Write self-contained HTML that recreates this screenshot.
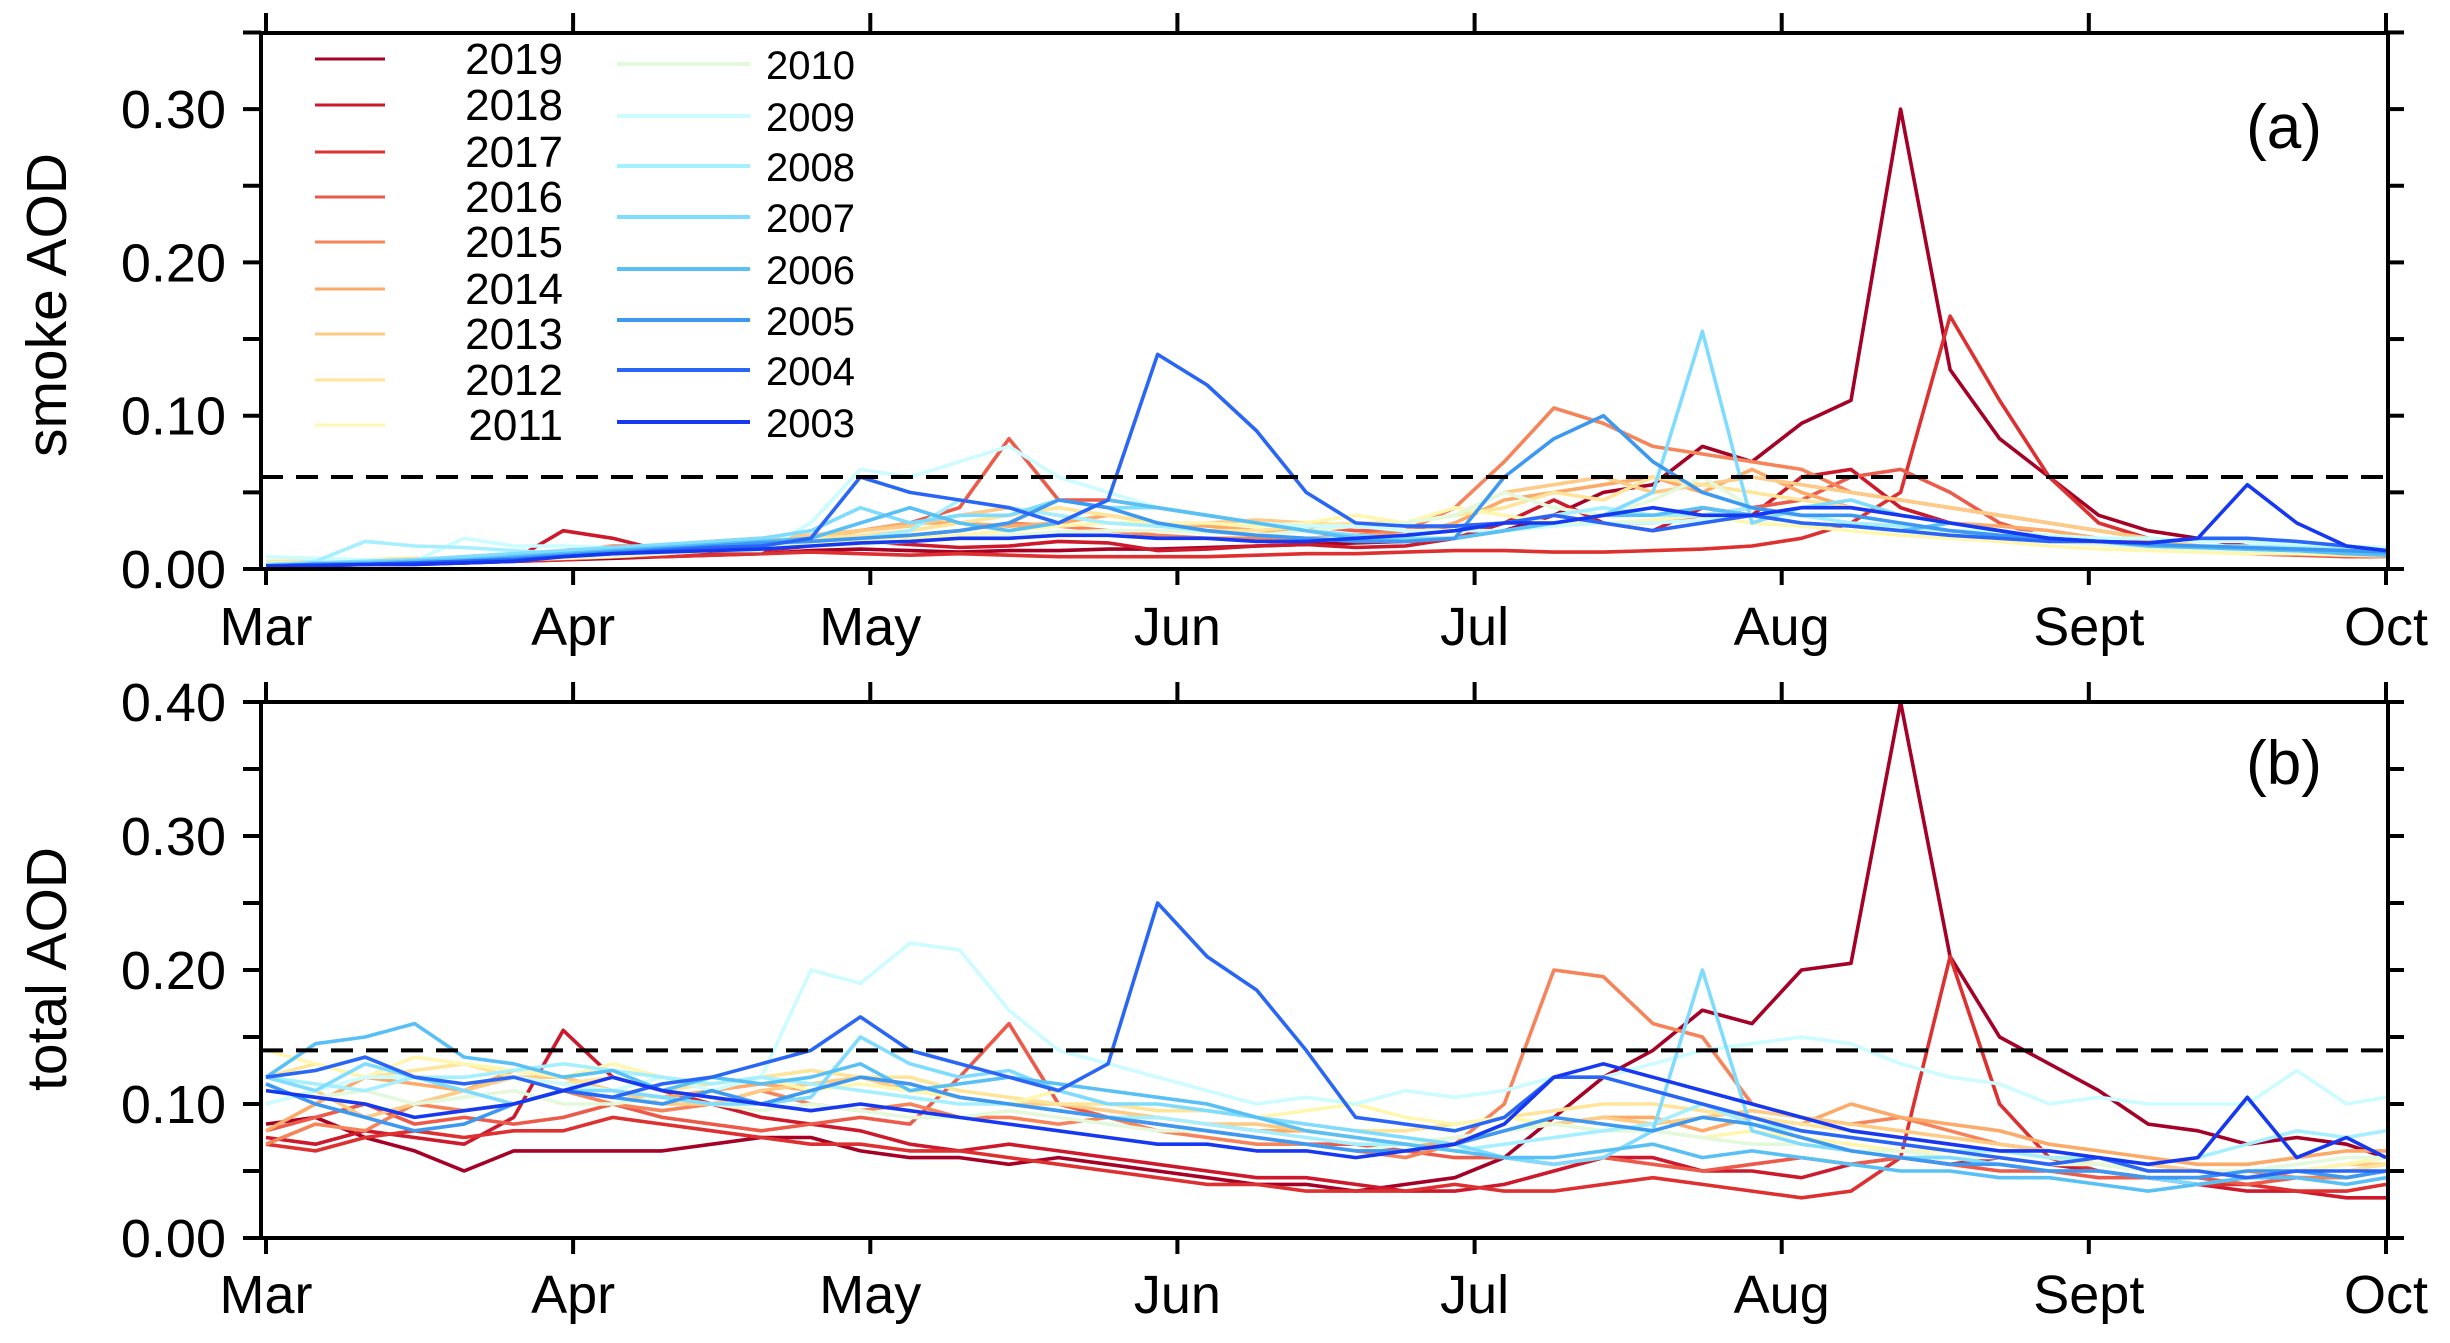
<!DOCTYPE html>
<html><head><meta charset="utf-8"><style>
html,body{margin:0;padding:0;background:#fff;}
svg{display:block;font-family:"Liberation Sans",sans-serif;}
</style></head><body>
<svg id="chart" width="2450" height="1343" viewBox="0 0 2450 1343" xmlns="http://www.w3.org/2000/svg"></svg>
<script>
const years = [2019,2018,2017,2016,2015,2014,2013,2012,2011,2010,2009,2008,2007,2006,2005,2004,2003];
const days = [0,5,10,15,20,25,30,35,40,45,50,55,60,65,70,75,80,85,90,95,100,105,110,115,120,125,130,135,140,145,150,155,160,165,170,175,180,185,190,195,200,205,210,214];
const monthLabels = ["Mar","Apr","May","Jun","Jul","Aug","Sept","Oct"];
const monthDays = [0,31,61,92,122,153,184,214];
const smokeTicks = [0.00,0.10,0.20,0.30];
const totalTicks = [0.00,0.10,0.20,0.30,0.40];
const smokeThreshold = 0.06;
const totalThreshold = 0.14;

const smoke2019=[0.002,0.003,0.004,0.004,0.004,0.005,0.006,0.007,0.008,0.009,0.010,0.012,0.013,0.012,0.011,0.012,0.012,0.013,0.013,0.014,0.015,0.016,0.017,0.018,0.02,0.025,0.035,0.05,0.055,0.08,0.07,0.095,0.11,0.30,0.13,0.085,0.06,0.035,0.025,0.02,0.015,0.012,0.01,0.008];
const smoke2018=[0.003,0.004,0.004,0.005,0.005,0.006,0.025,0.02,0.012,0.01,0.012,0.015,0.018,0.016,0.014,0.015,0.018,0.017,0.012,0.013,0.015,0.016,0.014,0.015,0.02,0.03,0.045,0.03,0.025,0.04,0.035,0.06,0.065,0.04,0.03,0.025,0.02,0.018,0.016,0.014,0.012,0.01,0.009,0.008];
const smoke2017=[0.002,0.002,0.003,0.003,0.004,0.005,0.006,0.008,0.008,0.009,0.01,0.011,0.01,0.009,0.01,0.009,0.008,0.008,0.008,0.008,0.009,0.01,0.01,0.011,0.012,0.012,0.011,0.011,0.012,0.013,0.015,0.02,0.03,0.05,0.165,0.11,0.06,0.03,0.02,0.015,0.012,0.01,0.009,0.008];
const smoke2016=[0.002,0.003,0.004,0.005,0.006,0.008,0.01,0.012,0.015,0.018,0.02,0.022,0.025,0.03,0.04,0.085,0.045,0.045,0.04,0.035,0.03,0.028,0.025,0.025,0.028,0.03,0.035,0.03,0.03,0.035,0.04,0.045,0.06,0.065,0.05,0.03,0.02,0.018,0.015,0.012,0.01,0.009,0.008,0.008];
const smoke2015=[0.003,0.003,0.004,0.005,0.006,0.008,0.012,0.015,0.015,0.014,0.016,0.018,0.02,0.022,0.025,0.03,0.028,0.025,0.022,0.02,0.02,0.02,0.022,0.025,0.04,0.07,0.105,0.095,0.08,0.075,0.07,0.065,0.05,0.045,0.04,0.035,0.03,0.025,0.02,0.015,0.012,0.01,0.01,0.009];
const smoke2014=[0.003,0.004,0.004,0.005,0.006,0.007,0.008,0.01,0.012,0.015,0.018,0.02,0.025,0.03,0.03,0.028,0.03,0.035,0.03,0.028,0.025,0.025,0.022,0.022,0.03,0.045,0.05,0.055,0.06,0.05,0.065,0.05,0.04,0.035,0.03,0.028,0.025,0.02,0.018,0.015,0.012,0.01,0.009,0.008];
const smoke2013=[0.004,0.004,0.005,0.006,0.008,0.01,0.01,0.012,0.014,0.016,0.02,0.022,0.025,0.028,0.035,0.04,0.035,0.03,0.028,0.03,0.032,0.03,0.028,0.03,0.035,0.05,0.055,0.06,0.05,0.055,0.06,0.055,0.05,0.045,0.04,0.035,0.03,0.025,0.02,0.015,0.012,0.011,0.01,0.009];
const smoke2012=[0.005,0.005,0.006,0.007,0.007,0.008,0.009,0.01,0.012,0.014,0.016,0.02,0.022,0.025,0.03,0.035,0.04,0.035,0.03,0.025,0.025,0.028,0.03,0.03,0.035,0.04,0.05,0.045,0.06,0.055,0.05,0.045,0.04,0.035,0.03,0.025,0.02,0.018,0.015,0.012,0.01,0.01,0.009,0.009];
const smoke2011=[0.004,0.004,0.005,0.005,0.006,0.006,0.007,0.008,0.01,0.012,0.014,0.016,0.018,0.02,0.022,0.025,0.028,0.03,0.03,0.03,0.028,0.03,0.035,0.03,0.04,0.035,0.03,0.03,0.032,0.035,0.03,0.028,0.025,0.022,0.02,0.018,0.015,0.013,0.012,0.011,0.01,0.01,0.01,0.009];
const smoke2010=[0.004,0.004,0.005,0.005,0.006,0.007,0.008,0.009,0.01,0.012,0.014,0.015,0.016,0.018,0.02,0.022,0.024,0.025,0.025,0.024,0.022,0.025,0.028,0.03,0.035,0.05,0.04,0.035,0.045,0.06,0.04,0.035,0.03,0.025,0.022,0.02,0.018,0.016,0.014,0.013,0.012,0.011,0.011,0.01];
const smoke2009=[0.008,0.007,0.006,0.005,0.02,0.015,0.015,0.014,0.013,0.012,0.012,0.03,0.065,0.06,0.07,0.08,0.06,0.05,0.04,0.035,0.03,0.028,0.028,0.025,0.025,0.025,0.028,0.03,0.03,0.032,0.035,0.035,0.03,0.028,0.025,0.025,0.022,0.02,0.02,0.018,0.018,0.016,0.015,0.014];
const smoke2008=[0.002,0.005,0.018,0.015,0.014,0.012,0.01,0.011,0.012,0.014,0.016,0.018,0.02,0.025,0.045,0.04,0.035,0.03,0.028,0.025,0.022,0.02,0.02,0.022,0.025,0.03,0.035,0.04,0.035,0.035,0.04,0.035,0.03,0.028,0.025,0.022,0.02,0.018,0.016,0.015,0.015,0.014,0.013,0.012];
const smoke2007=[0.003,0.004,0.005,0.006,0.008,0.01,0.012,0.014,0.016,0.018,0.02,0.025,0.04,0.03,0.035,0.035,0.045,0.04,0.04,0.035,0.03,0.025,0.022,0.02,0.02,0.025,0.03,0.035,0.05,0.155,0.03,0.04,0.045,0.035,0.03,0.025,0.02,0.018,0.015,0.014,0.013,0.012,0.011,0.01];
const smoke2006=[0.002,0.003,0.004,0.005,0.006,0.008,0.01,0.012,0.014,0.016,0.018,0.02,0.03,0.04,0.03,0.025,0.03,0.045,0.04,0.035,0.03,0.025,0.02,0.018,0.02,0.025,0.03,0.035,0.035,0.04,0.035,0.03,0.028,0.025,0.03,0.025,0.02,0.018,0.015,0.014,0.013,0.012,0.01,0.009];
const smoke2005=[0.002,0.003,0.003,0.004,0.005,0.007,0.009,0.011,0.013,0.015,0.017,0.018,0.02,0.022,0.025,0.03,0.045,0.04,0.03,0.025,0.022,0.02,0.018,0.018,0.02,0.06,0.085,0.1,0.07,0.05,0.04,0.035,0.035,0.03,0.025,0.022,0.02,0.018,0.016,0.015,0.014,0.013,0.012,0.011];
const smoke2004=[0.002,0.003,0.003,0.004,0.005,0.006,0.008,0.01,0.012,0.014,0.015,0.02,0.06,0.05,0.045,0.04,0.03,0.045,0.14,0.12,0.09,0.05,0.03,0.028,0.028,0.03,0.035,0.03,0.025,0.03,0.035,0.03,0.028,0.025,0.022,0.02,0.018,0.018,0.017,0.02,0.02,0.018,0.015,0.012];
const smoke2003=[0.002,0.002,0.003,0.003,0.004,0.005,0.008,0.01,0.011,0.012,0.013,0.015,0.017,0.018,0.02,0.02,0.022,0.022,0.02,0.02,0.018,0.018,0.02,0.022,0.025,0.03,0.03,0.035,0.04,0.035,0.035,0.04,0.04,0.035,0.03,0.025,0.02,0.018,0.017,0.02,0.055,0.03,0.015,0.012];

const total2019=[0.085,0.09,0.075,0.065,0.05,0.065,0.065,0.065,0.065,0.07,0.075,0.075,0.065,0.06,0.06,0.055,0.06,0.055,0.05,0.045,0.04,0.04,0.035,0.04,0.045,0.06,0.09,0.12,0.14,0.17,0.16,0.2,0.205,0.40,0.21,0.15,0.13,0.11,0.085,0.08,0.07,0.075,0.07,0.06];
const total2018=[0.075,0.07,0.08,0.075,0.07,0.09,0.155,0.12,0.11,0.1,0.09,0.085,0.08,0.07,0.065,0.07,0.065,0.06,0.055,0.05,0.045,0.045,0.04,0.035,0.035,0.04,0.05,0.06,0.06,0.05,0.05,0.045,0.055,0.06,0.055,0.06,0.055,0.05,0.045,0.04,0.035,0.035,0.03,0.03];
const total2017=[0.07,0.065,0.075,0.08,0.075,0.08,0.08,0.09,0.085,0.08,0.075,0.07,0.07,0.065,0.065,0.06,0.055,0.05,0.045,0.04,0.04,0.035,0.035,0.035,0.04,0.035,0.035,0.04,0.045,0.04,0.035,0.03,0.035,0.06,0.21,0.1,0.06,0.05,0.045,0.04,0.04,0.035,0.035,0.04];
const total2016=[0.08,0.09,0.1,0.085,0.09,0.085,0.09,0.1,0.09,0.085,0.08,0.085,0.09,0.085,0.12,0.16,0.1,0.09,0.085,0.08,0.075,0.07,0.07,0.065,0.06,0.06,0.055,0.06,0.055,0.05,0.055,0.06,0.055,0.06,0.055,0.05,0.05,0.045,0.045,0.045,0.04,0.045,0.045,0.05];
const total2015=[0.07,0.085,0.08,0.1,0.095,0.1,0.11,0.1,0.095,0.1,0.11,0.1,0.095,0.1,0.09,0.09,0.085,0.09,0.08,0.075,0.07,0.07,0.065,0.06,0.07,0.1,0.2,0.195,0.16,0.15,0.1,0.09,0.085,0.09,0.08,0.07,0.065,0.06,0.055,0.05,0.05,0.045,0.045,0.05];
const total2014=[0.08,0.1,0.12,0.115,0.11,0.125,0.12,0.11,0.105,0.11,0.115,0.11,0.12,0.115,0.105,0.1,0.095,0.09,0.09,0.085,0.08,0.08,0.075,0.07,0.07,0.08,0.085,0.09,0.09,0.08,0.09,0.085,0.1,0.09,0.085,0.08,0.07,0.065,0.06,0.055,0.055,0.06,0.065,0.065];
const total2013=[0.1,0.11,0.09,0.1,0.11,0.12,0.12,0.11,0.1,0.1,0.11,0.115,0.12,0.11,0.105,0.1,0.1,0.095,0.09,0.085,0.085,0.08,0.075,0.07,0.075,0.08,0.085,0.09,0.085,0.09,0.095,0.09,0.085,0.08,0.075,0.07,0.065,0.06,0.055,0.05,0.05,0.05,0.055,0.055];
const total2012=[0.12,0.13,0.12,0.125,0.13,0.12,0.115,0.12,0.11,0.115,0.12,0.125,0.12,0.12,0.11,0.105,0.1,0.1,0.095,0.095,0.09,0.085,0.08,0.08,0.085,0.09,0.095,0.1,0.1,0.095,0.09,0.085,0.08,0.075,0.07,0.065,0.06,0.055,0.05,0.05,0.045,0.05,0.05,0.055];
const total2011=[0.14,0.13,0.12,0.135,0.13,0.125,0.12,0.13,0.12,0.115,0.12,0.11,0.115,0.11,0.105,0.1,0.11,0.1,0.1,0.095,0.09,0.095,0.1,0.09,0.085,0.09,0.085,0.08,0.08,0.075,0.08,0.075,0.07,0.065,0.065,0.06,0.055,0.055,0.05,0.05,0.05,0.05,0.055,0.06];
const total2010=[0.11,0.105,0.11,0.1,0.105,0.11,0.1,0.1,0.105,0.1,0.095,0.1,0.095,0.09,0.09,0.095,0.09,0.085,0.08,0.08,0.075,0.07,0.065,0.07,0.075,0.08,0.085,0.08,0.08,0.075,0.07,0.07,0.065,0.065,0.06,0.06,0.055,0.055,0.05,0.05,0.05,0.055,0.06,0.06];
const total2009=[0.1,0.11,0.12,0.12,0.115,0.12,0.115,0.11,0.12,0.11,0.12,0.2,0.19,0.22,0.215,0.17,0.14,0.13,0.12,0.11,0.1,0.105,0.1,0.11,0.105,0.11,0.12,0.12,0.13,0.14,0.145,0.15,0.145,0.13,0.12,0.115,0.1,0.105,0.1,0.1,0.1,0.125,0.1,0.105];
const total2008=[0.12,0.115,0.11,0.12,0.12,0.125,0.13,0.125,0.12,0.115,0.12,0.115,0.11,0.105,0.1,0.1,0.095,0.09,0.09,0.085,0.08,0.075,0.07,0.07,0.065,0.07,0.075,0.08,0.085,0.1,0.085,0.08,0.075,0.07,0.065,0.065,0.06,0.06,0.055,0.06,0.07,0.08,0.075,0.08];
const total2007=[0.12,0.11,0.13,0.12,0.11,0.1,0.11,0.11,0.105,0.1,0.1,0.105,0.15,0.13,0.12,0.125,0.11,0.1,0.1,0.095,0.09,0.085,0.08,0.075,0.07,0.06,0.055,0.06,0.08,0.2,0.08,0.07,0.065,0.06,0.06,0.055,0.05,0.05,0.045,0.04,0.045,0.05,0.045,0.05];
const total2006=[0.12,0.145,0.15,0.16,0.135,0.13,0.12,0.125,0.11,0.12,0.115,0.12,0.13,0.11,0.115,0.12,0.115,0.11,0.105,0.1,0.09,0.08,0.075,0.07,0.065,0.06,0.06,0.065,0.07,0.06,0.065,0.06,0.055,0.05,0.05,0.045,0.045,0.04,0.035,0.04,0.045,0.045,0.04,0.045];
const total2005=[0.115,0.1,0.09,0.08,0.085,0.1,0.11,0.105,0.1,0.11,0.1,0.11,0.12,0.115,0.105,0.1,0.095,0.09,0.085,0.08,0.075,0.07,0.065,0.065,0.07,0.08,0.09,0.085,0.08,0.09,0.085,0.075,0.065,0.06,0.055,0.055,0.05,0.05,0.045,0.045,0.05,0.05,0.045,0.05];
const total2004=[0.12,0.125,0.135,0.12,0.115,0.12,0.11,0.105,0.115,0.12,0.13,0.14,0.165,0.14,0.13,0.12,0.11,0.13,0.25,0.21,0.185,0.14,0.09,0.085,0.08,0.09,0.12,0.12,0.11,0.1,0.09,0.08,0.075,0.07,0.065,0.06,0.055,0.06,0.05,0.05,0.045,0.05,0.05,0.05];
const total2003=[0.11,0.105,0.1,0.09,0.095,0.1,0.11,0.12,0.11,0.105,0.1,0.095,0.1,0.095,0.09,0.085,0.08,0.075,0.07,0.07,0.065,0.065,0.06,0.065,0.07,0.085,0.12,0.13,0.12,0.11,0.1,0.09,0.08,0.075,0.07,0.065,0.065,0.06,0.055,0.06,0.105,0.06,0.075,0.06];

const smokeSeries=[smoke2019,smoke2018,smoke2017,smoke2016,smoke2015,smoke2014,smoke2013,smoke2012,smoke2011,smoke2010,smoke2009,smoke2008,smoke2007,smoke2006,smoke2005,smoke2004,smoke2003];
const totalSeries=[total2019,total2018,total2017,total2016,total2015,total2014,total2013,total2012,total2011,total2010,total2009,total2008,total2007,total2006,total2005,total2004,total2003];
const colors=["#a50026","#cc1a2c","#dd3030","#ec5a4a","#f6845a","#fcaa68","#fdcb86","#fee59a","#fff7b0","#e4f8dc","#ccfcff","#a6efff","#80dcff","#58c0f5","#3c98f0","#2a66f5","#1538f0"];

const NS="http://www.w3.org/2000/svg";
const svg=document.getElementById('chart');
function mk(tag,attrs,parent){const e=document.createElementNS(NS,tag);for(const k in attrs)e.setAttribute(k,attrs[k]);(parent||svg).appendChild(e);return e;}

const X0=266,X1=2386,FL=261,FR=2388;
function xScale(d){return X0+(d/214)*(X1-X0);}
const panels=[
 {name:'smoke',y0:569,pxPer:1533,top:33,max:0.35,ticks:smokeTicks,series:smokeSeries,thr:smokeThreshold,title:'smoke AOD',tag:'(a)',tagY:148,titleY:305,monthY:645},
 {name:'total',y0:1238,pxPer:1340,top:702,max:0.40,ticks:totalTicks,series:totalSeries,thr:totalThreshold,title:'total AOD',tag:'(b)',tagY:784,titleY:969,monthY:1313}
];
panels.forEach(p=>{
 const yS=v=>p.y0-v*p.pxPer;
 const g=mk('g',{});
 
 
 p.series.forEach((vals,i)=>{
  const pts=vals.map((v,j)=>xScale(days[j]).toFixed(1)+','+yS(v).toFixed(1)).join(' ');
  const pl=mk('polyline',{points:pts,fill:'none',stroke:colors[i],'stroke-width':3.6,'stroke-linejoin':'round'},g);
  
  
 });
 const th=mk('line',{x1:FL,x2:FR,y1:yS(p.thr),y2:yS(p.thr),stroke:'#000','stroke-width':4,'stroke-dasharray':'22 13'},g);
 
 
 const fr=mk('path',{d:`M${FL},${p.top} H${FR} V${p.y0} H${FL} Z`,fill:'none',stroke:'#000','stroke-width':4},g);
 
 
 for(let v=0;v<=p.max+1e-9;v+=0.05){
  const y=yS(v);
  mk('line',{x1:FL-18,x2:FL,y1:y,y2:y,stroke:'#000','stroke-width':4},g);
  mk('line',{x1:FR,x2:FR+16,y1:y,y2:y,stroke:'#000','stroke-width':4},g);
 }
 p.ticks.forEach(v=>{
  const t=mk('text',{x:226,y:yS(v)+19,'text-anchor':'end','font-size':54},g);
  t.textContent=v.toFixed(2);
  
  
 });
 monthDays.forEach((d,i)=>{
  const x=xScale(d);
  mk('line',{x1:x,x2:x,y1:p.top-20,y2:p.top,stroke:'#000','stroke-width':4},g);
  mk('line',{x1:x,x2:x,y1:p.y0,y2:p.y0+16,stroke:'#000','stroke-width':4},g);
  const t=mk('text',{x:x,y:p.monthY,'text-anchor':'middle','font-size':54},g);
  t.textContent=monthLabels[i];
  
  
 });
 const yt=mk('text',{x:0,y:0,'text-anchor':'middle','font-size':57,transform:`translate(66,${p.titleY}) rotate(-90)`},g);
 yt.textContent=p.title;
 
 
 const tg=mk('text',{x:2284,y:p.tagY,'text-anchor':'middle','font-size':62},g);
 tg.textContent=p.tag;
 
 
});
const lg=mk('g',{});


const col1Y=[59,105,152,197,242,289,334,380,425];
const col2Y=[64,116,166,217,269,320,370,422];
years.forEach((yr,i)=>{
 let lx1,lx2,tx,ty,anchor,fs;
 if(i<9){lx1=315;lx2=385;tx=563;ty=col1Y[i];anchor='end';fs=44;}
 else{lx1=617;lx2=750;tx=766;ty=col2Y[i-9];anchor='start';fs=40;}
 const e=mk('g',{},lg);
 
 
 mk('line',{x1:lx1,x2:lx2,y1:ty,y2:ty,stroke:colors[i],'stroke-width':i<9?3:4},e);
 const t=mk('text',{x:tx,y:ty+15,'text-anchor':anchor,'font-size':fs},e);
 t.textContent=yr;
});
</script>
</body></html>
